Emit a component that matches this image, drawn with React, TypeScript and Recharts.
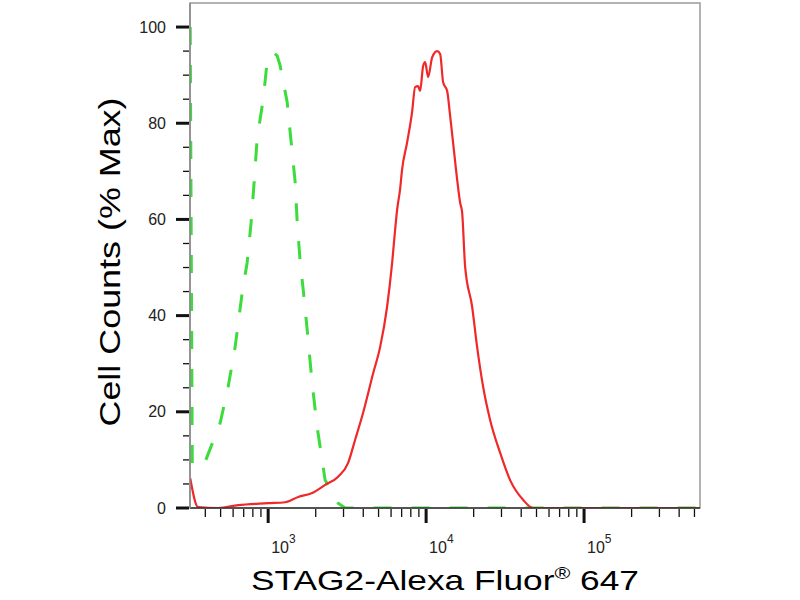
import { LineChart, Line, XAxis, YAxis, ReferenceArea } from 'recharts'

// Flow cytometry histogram: isotype control (green, dashed) vs STAG2 stained (red)
const controlX = [321, 331, 399, 497, 558, 618, 685, 736, 780, 815, 851, 930, 985, 1076, 1140, 1191, 1319, 1399, 1483, 1527, 1596, 1667, 1767, 1898, 2042, 2294, 2774, 3070, 542000]
const controlY = [100, 8.5, 9.6, 17.7, 25.2, 33.5, 44.8, 51, 59.4, 67.7, 76.7, 85, 92.7, 94.8, 94, 92, 84.4, 76, 67.7, 59.4, 51, 45.4, 37, 26, 16.9, 5.8, 1, 0, 0]

const stainedX = [321, 360, 483, 646, 1000, 1281, 1549, 1899, 2294, 2774, 3209, 3554, 3992, 4621, 5117, 5666, 6095, 6370, 6553, 6844, 7047, 7580, 8150, 8517, 8897, 9162, 9573, 9859, 10300, 10920, 11740, 12270, 12820, 13590, 14200, 15280, 15720, 16420, 16900, 17660, 19550, 21030, 22960, 25420, 29400, 34030, 41120, 47570, 542000]
const stainedY = [6.2, 0.2, 0, 0.6, 1, 1.2, 2.3, 3.1, 4.8, 6.5, 9.4, 14.2, 19.8, 28, 33.5, 41.9, 51, 58, 62, 66.3, 70.4, 76, 82.3, 87.5, 87.7, 86.7, 91.9, 92.7, 89.6, 93.7, 95, 94.4, 88.5, 86.7, 81.5, 71.9, 68.3, 63.5, 61.5, 50.2, 41.9, 33.5, 25.2, 18.3, 11.5, 5.8, 1.7, 0, 0]

const xDomain = [320, 542000]
const xTicks = [400, 500, 600, 700, 800, 900, 1000, 2000, 3000, 4000, 5000, 6000, 7000, 8000, 9000, 10000, 20000, 30000, 40000, 50000, 60000, 70000, 80000, 90000, 100000, 200000, 300000, 400000, 500000]
const xMajor = [1000, 10000, 100000]
const yTicks = [0, 5, 10, 15, 20, 25, 30, 35, 40, 45, 50, 55, 60, 65, 70, 75, 80, 85, 90, 95, 100]

const controlData = controlX.map((x, i) => ({ x, y: controlY[i] }))
const stainedData = stainedX.map((x, i) => ({ x, y: stainedY[i] }))

const FONT = 'Arial, "Liberation Sans", Helvetica, sans-serif'

function XTick({ x, y, payload }: any) {
  const major = xMajor.includes(payload.value)
  const exp = Math.round(Math.log10(payload.value))
  return (
    <g>
      <line x1={x} x2={x} y1={y + 1} y2={y + (major ? 15 : 9)} stroke="#111" strokeWidth={major ? 3 : 1.3} />
      {major && (
        <text x={x + 3} y={y + 45} fontFamily={FONT} fontSize={16} fill="#222">
          10
          <tspan dy={-10} fontSize={12}>{exp}</tspan>
        </text>
      )}
    </g>
  )
}

function YTick({ x, y, payload }: any) {
  const major = payload.value % 20 === 0
  return (
    <g>
      <line x1={x - (major ? 14 : 7)} x2={x - 1} y1={y} y2={y} stroke="#111" strokeWidth={major ? 3 : 1.3} />
      {major && (
        <text x={x - 24} y={y} textAnchor="end" dominantBaseline="central" fontFamily={FONT} fontSize={16} fill="#222">
          {payload.value}
        </text>
      )}
    </g>
  )
}

export default function App() {
  return (
    <div style={{ position: 'absolute', left: 0, top: 0, width: 800, height: 600, background: '#fff' }}>
      <LineChart width={800} height={600} margin={{ top: 3, right: 100, bottom: 0, left: 130 }}>
        <ReferenceArea x1={xDomain[0]} x2={xDomain[1]} y1={0} y2={105} fill="none" stroke="#9a9a9a" strokeWidth={1.5} />
        <XAxis
          type="number"
          dataKey="x"
          scale="log"
          domain={xDomain}
          allowDataOverflow
          ticks={xTicks}
          interval={0}
          tick={<XTick />}
          tickLine={false}
          tickSize={0}
          tickMargin={0}
          height={92}
          axisLine={{ stroke: '#333', strokeWidth: 1.5 }}
          label={({ viewBox }: any) => (
            <text
              x={viewBox.x + viewBox.width / 2}
              y={590}
              textAnchor="middle"
              fontFamily={FONT}
              fontSize={28}
              fill="#000"
              textLength={388}
              lengthAdjust="spacingAndGlyphs"
            >
              STAG2-Alexa Fluor
              <tspan dy={-11} fontSize={17}>®</tspan>
              <tspan dy={11}> 647</tspan>
            </text>
          )}
        />
        <YAxis
          type="number"
          domain={[0, 105]}
          allowDataOverflow
          ticks={yTicks}
          interval={0}
          tick={<YTick />}
          tickLine={false}
          tickSize={0}
          tickMargin={0}
          width={60}
          axisLine={{ stroke: '#8a8a8a', strokeWidth: 1.5 }}
          label={() => (
            <text
              x={120}
              y={262}
              transform="rotate(-90, 120, 262)"
              textAnchor="middle"
              fontFamily={FONT}
              fontSize={29}
              fill="#000"
              textLength={329}
              lengthAdjust="spacingAndGlyphs"
            >
              Cell Counts (% Max)
            </text>
          )}
        />
        <Line
          data={controlData}
          dataKey="y"
          type="linear"
          stroke="#3ddc3d"
          strokeWidth={3}
          strokeDasharray="18 20"
          dot={false}
          activeDot={false}
          isAnimationActive={false}
        />
        <Line
          data={stainedData}
          dataKey="y"
          type="monotone"
          stroke="#f02828"
          strokeWidth={2.2}
          dot={false}
          activeDot={false}
          isAnimationActive={false}
        />
      </LineChart>
    </div>
  )
}
